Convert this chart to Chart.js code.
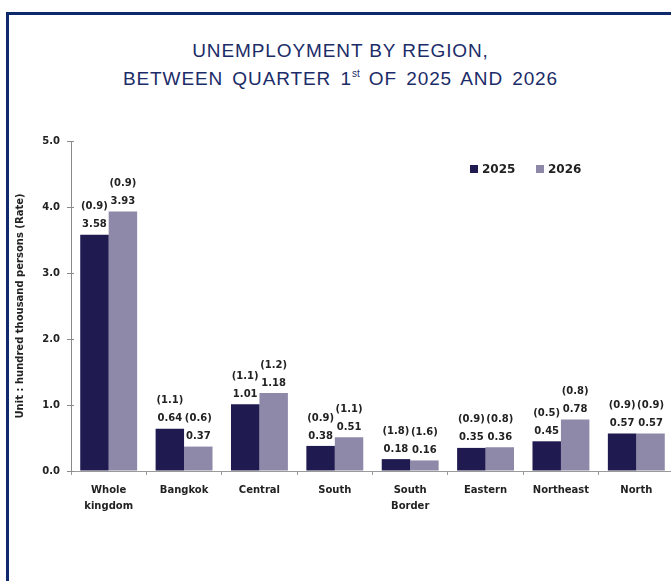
<!DOCTYPE html>
<html>
<head>
<meta charset="utf-8">
<script src="https://cdn.jsdelivr.net/npm/chart.js@4"></script>
<style>
  html, body { margin: 0; padding: 0; background: #fff; overflow: hidden; width: 671px; height: 581px; }
  .frame { position: absolute; left: 6px; top: 12px; width: 720px; height: 640px; border: 3px solid #0e2a6c; box-sizing: border-box; }
  .title { position: absolute; left: 0; width: 681px; text-align: center; font-family: "Liberation Sans", Arial, sans-serif; font-size: 19px; letter-spacing: 0.9px; color: #1b2c68; }
  .title sup { font-size: 10px; letter-spacing: 0; position: relative; top: -1px; }
  .wrap { position: absolute; left: 0; top: 0; width: 680px; height: 581px; }
</style>
</head>
<body>
<div class="frame"></div>
<div class="title" style="top:40px">UNEMPLOYMENT BY REGION,</div>
<div class="title" style="top:68px; word-spacing:3px">BETWEEN QUARTER 1<sup>st</sup> OF 2025 AND 2026</div>
<div class="wrap"><canvas id="unemployment"></canvas></div>
<script>
//data
const regions = [
  ["Whole", "kingdom"],
  "Bangkok",
  "Central",
  "South",
  ["South", "Border"],
  "Eastern",
  "Northeast",
  "North",
];
const persons2025 = [3.58, 0.64, 1.01, 0.38, 0.18, 0.35, 0.45, 0.57];
const persons2026 = [3.93, 0.37, 1.18, 0.51, 0.16, 0.36, 0.78, 0.57];
const rate2025 = [0.9, 1.1, 1.1, 0.9, 1.8, 0.9, 0.5, 0.9];
const rate2026 = [0.9, 0.6, 1.2, 1.1, 1.6, 0.8, 0.8, 0.9];
const yTicks = [0, 1, 2, 3, 4, 5];

const labelFont = "bold 10px 'DejaVu Sans', Verdana, sans-serif";

// value + (rate) above each bar
const barLabels = {
  id: "barLabels",
  afterDatasetsDraw(chart) {
    const c = chart.ctx;
    c.save();
    c.font = labelFont;
    c.fillStyle = "#222";
    c.textAlign = "center";
    c.textBaseline = "middle";
    chart.data.datasets.forEach((ds, i) => {
      chart.getDatasetMeta(i).data.forEach((bar, j) => {
        c.fillText(ds.data[j].toFixed(2), bar.x, bar.y - 10);
        c.fillText("(" + ds.rates[j].toFixed(1) + ")", bar.x, bar.y - 28);
      });
    });
    c.restore();
  },
};

// legend drawn inside the plot, top right
const innerLegend = {
  id: "innerLegend",
  afterDraw(chart) {
    const c = chart.ctx;
    const pos = [470, 536];
    c.save();
    c.font = "bold 12px 'DejaVu Sans', Verdana, sans-serif";
    c.textBaseline = "middle";
    chart.data.datasets.forEach((ds, i) => {
      c.fillStyle = ds.backgroundColor;
      c.fillRect(pos[i], 165, 8, 8);
      c.fillStyle = "#222";
      c.fillText(ds.label, pos[i] + 12, 169.5);
    });
    c.restore();
  },
};

// y ticks in the reference cross the axis line
const crossTicks = {
  id: "crossTicks",
  afterDraw(chart) {
    const y = chart.scales.y;
    const c = chart.ctx;
    c.save();
    c.strokeStyle = "#8a8a8a";
    c.lineWidth = 1;
    y.ticks.forEach((t) => {
      const py = Math.round(y.getPixelForValue(t.value)) + 0.5;
      c.beginPath();
      c.moveTo(y.right, py);
      c.lineTo(y.right + 3, py);
      c.stroke();
    });
    c.restore();
  },
};

const ctx = document.getElementById("unemployment");

new Chart(ctx, {
  type: "bar",
  data: {
    labels: regions,
    datasets: [
      {
        label: "2025",
        data: persons2025,
        rates: rate2025,
        backgroundColor: "#1f1a50",
        borderWidth: 0,
      },
      {
        label: "2026",
        data: persons2026,
        rates: rate2026,
        backgroundColor: "#8e89a9",
        borderWidth: 0,
      },
    ],
  },
  options: {
    animation: false,
    responsive: true,
    maintainAspectRatio: false,
    devicePixelRatio: 1,
    categoryPercentage: 0.755,
    barPercentage: 1.0,
    layout: {
      padding: { left: 0, right: 6, top: 141, bottom: 0 },
    },
    scales: {
      x: {
        afterFit(scale) {
          scale.height = 110;
        },
        grid: {
          display: true,
          drawOnChartArea: false,
          tickLength: 4,
          color: "#9a9a9a",
        },
        border: { color: "#9a9a9a" },
        ticks: {
          font: { family: "'DejaVu Sans', Verdana, sans-serif", size: 10, weight: "bold", lineHeight: 1.6 },
          color: "#222",
          padding: 7,
          maxRotation: 0,
          autoSkip: false,
        },
      },
      y: {
        min: 0,
        max: 5,
        afterFit(scale) {
          scale.width = 71;
        },
        afterBuildTicks(scale) {
          scale.ticks = yTicks.map((v) => ({ value: v }));
        },
        grid: {
          drawOnChartArea: false,
          tickLength: 4,
          color: "#8a8a8a",
        },
        border: { color: "#8a8a8a" },
        ticks: {
          font: { family: "'DejaVu Sans', Verdana, sans-serif", size: 10, weight: "bold" },
          color: "#222",
          padding: 7,
          callback: (v) => Number(v).toFixed(1),
        },
        title: {
          display: true,
          text: "Unit : hundred thousand persons (Rate)",
          font: { family: "'DejaVu Sans', Verdana, sans-serif", size: 10, weight: "bold" },
          color: "#222",
          padding: { top: 14, bottom: 0 },
        },
      },
    },
    plugins: {
      legend: { display: false },
      tooltip: { enabled: false },
    },
  },
  plugins: [barLabels, innerLegend, crossTicks],
});
</script>
</body>
</html>
